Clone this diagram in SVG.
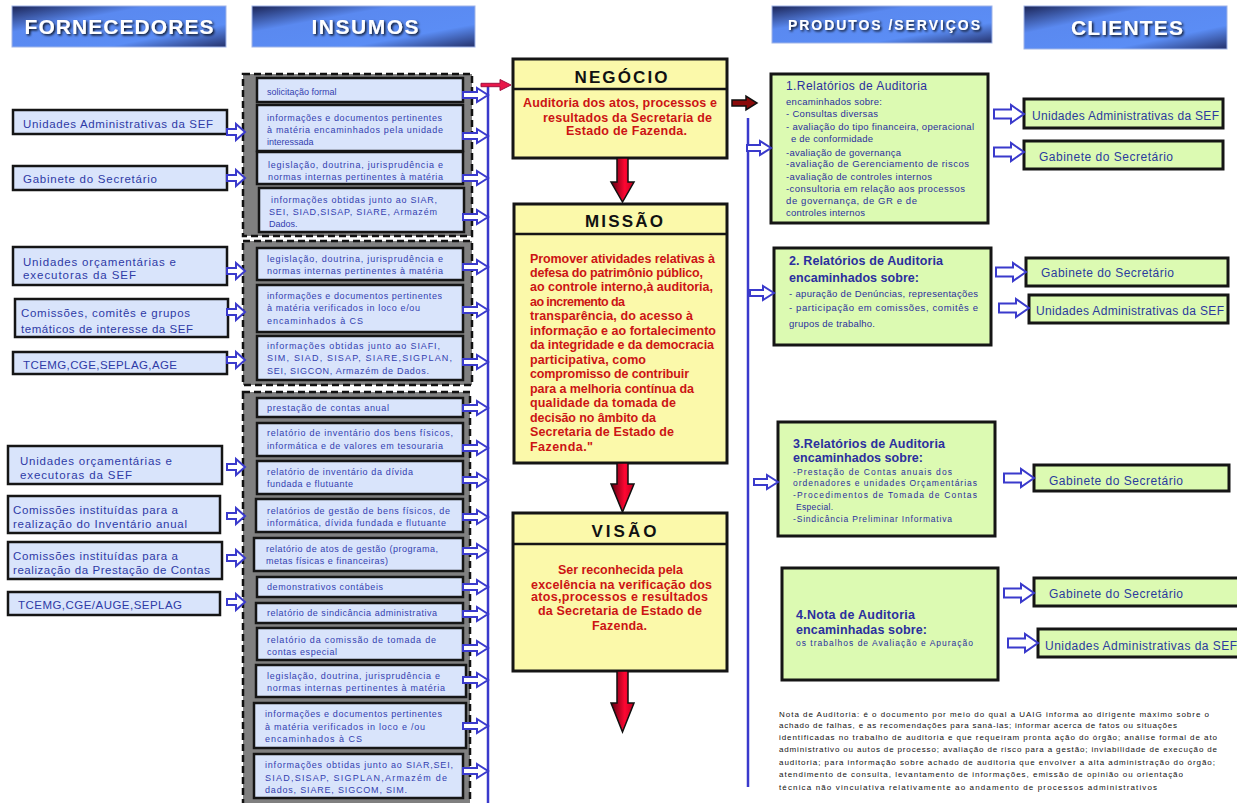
<svg xmlns="http://www.w3.org/2000/svg" width="1237" height="803" viewBox="0 0 1237 803">
<style>
text{font-family:"Liberation Sans",Arial,sans-serif}
.hd{fill:url(#hg);stroke:#9fb4e8;stroke-width:1}
.ht{fill:#fff;font-weight:bold;filter:url(#sh)}
.sb{fill:#d9e4fb;stroke:#151515;stroke-width:2.5}
.st{font-size:11.5px;fill:#2e3aa6}
.grp{fill:#808080;stroke:#111;stroke-width:2.5;stroke-dasharray:7 4}
.ib{fill:#d9e4fb;stroke:#151515;stroke-width:2.5}
.it{font-size:9px;fill:#3340b0}
.cb{fill:#fbf9aa;stroke:#151515;stroke-width:3}
.ch{font-size:17px;font-weight:900;fill:#111}
.ct{font-size:12.5px;font-weight:bold;fill:#cc1414}
.pb{fill:#dcfab2;stroke:#151515;stroke-width:3}
.pt{fill:#2b2f9e}
.ptl{font-size:12px}
.pbd{font-size:12.5px;font-weight:bold}
.ps{font-size:9.5px}
.pss{font-size:8.5px}
.clt{font-size:12px;fill:#2b3a9e}
.nt{font-size:8px;fill:#111}
.ha{fill:#fff;stroke:#3a3acc;stroke-width:2}
.bl{stroke:#3a3acc;stroke-width:2.5;fill:none}
.ra{fill:url(#rg);stroke:#111;stroke-width:1.5}
</style>
<defs>
<linearGradient id="hg" x1="0" y1="0" x2="1" y2="1">
<stop offset="0" stop-color="#1b2456"/>
<stop offset="0.32" stop-color="#5a89f0"/>
<stop offset="0.72" stop-color="#5b8df5"/>
<stop offset="1" stop-color="#25326c"/>
</linearGradient>
<linearGradient id="rg" x1="0" y1="0" x2="1" y2="0">
<stop offset="0" stop-color="#5a0010"/>
<stop offset="0.6" stop-color="#ff0632"/>
<stop offset="1" stop-color="#c00020"/>
</linearGradient>
<filter id="sh" x="-10%" y="-30%" width="120%" height="160%">
<feDropShadow dx="1.5" dy="1.5" stdDeviation="0.8" flood-color="#000" flood-opacity="0.85"/>
</filter>
<path id="aS" class="ha" d="M-18,-3 L-9,-3 L-9,-8 L0,0 L-9,8 L-9,3 L-18,3 Z"/>
<path id="aI" class="ha" d="M-25,-3 L-11,-3 L-11,-7 L0,0 L-11,7 L-11,3 L-25,3 Z"/>
<path id="aP" class="ha" d="M-24,-3 L-11,-3 L-11,-7 L0,0 L-11,7 L-11,3 L-24,3 Z"/>
<path id="aC" class="ha" d="M-30,-4.5 L-13,-4.5 L-13,-9 L0,0 L-13,9 L-13,4.5 L-30,4.5 Z"/>
</defs>

<g id="headers">
<g id="h-fornecedores"><rect class="hd" x="12" y="6" width="214" height="41"/><text class="ht" x="119" y="34" font-size="21" text-anchor="middle" textLength="189" lengthAdjust="spacing">FORNECEDORES</text></g>
<g id="h-insumos"><rect class="hd" x="252" y="6" width="223" height="41"/><text class="ht" x="365" y="34" font-size="21" text-anchor="middle" textLength="107" lengthAdjust="spacing">INSUMOS</text></g>
<g id="h-produtos"><rect class="hd" x="772" y="6" width="220" height="37"/><text class="ht" x="884" y="30" font-size="14" text-anchor="middle" textLength="192" lengthAdjust="spacing">PRODUTOS /SERVIÇOS</text></g>
<g id="h-clientes"><rect class="hd" x="1024" y="6" width="203" height="43"/><text class="ht" x="1127" y="35" font-size="21" text-anchor="middle" textLength="112" lengthAdjust="spacing">CLIENTES</text></g>
</g>

<g id="fornecedores">
<g id="s1"><rect class="sb" x="13" y="110" width="214" height="24"/><text class="st" x="23" y="128" textLength="190" lengthAdjust="spacing">Unidades Administrativas da SEF</text></g>
<g id="s2"><rect class="sb" x="13" y="166" width="214" height="24"/><text class="st" x="23" y="183" textLength="134" lengthAdjust="spacing">Gabinete do Secretário</text></g>
<g id="s3"><rect class="sb" x="13" y="247" width="214" height="38"/><text class="st" x="23" y="266" textLength="153" lengthAdjust="spacing">Unidades orçamentárias e</text><text class="st" x="23" y="279" textLength="113" lengthAdjust="spacing">executoras da SEF</text></g>
<g id="s4"><rect class="sb" x="15" y="299" width="213" height="38"/><text class="st" x="21" y="317" textLength="169" lengthAdjust="spacing">Comissões, comitês e grupos</text><text class="st" x="21" y="333" textLength="172" lengthAdjust="spacing">temáticos de interesse da SEF</text></g>
<g id="s5"><rect class="sb" x="13" y="352" width="214" height="22"/><text class="st" x="23" y="369" textLength="154" lengthAdjust="spacing">TCEMG,CGE,SEPLAG,AGE</text></g>
<g id="s6"><rect class="sb" x="8" y="446" width="214" height="38"/><text class="st" x="20" y="465" textLength="152" lengthAdjust="spacing">Unidades orçamentárias e</text><text class="st" x="20" y="479" textLength="112" lengthAdjust="spacing">executoras da SEF</text></g>
<g id="s7"><rect class="sb" x="8" y="496" width="212" height="37"/><text class="st" x="13" y="514" textLength="165" lengthAdjust="spacing">Comissões instituídas para a</text><text class="st" x="13" y="528" textLength="174" lengthAdjust="spacing">realização do Inventário anual</text></g>
<g id="s8"><rect class="sb" x="8" y="542" width="214" height="37"/><text class="st" x="13" y="560" textLength="165" lengthAdjust="spacing">Comissões instituídas para a</text><text class="st" x="13" y="574" textLength="197" lengthAdjust="spacing">realização da Prestação de Contas</text></g>
<g id="s9"><rect class="sb" x="8" y="592" width="212" height="23"/><text class="st" x="18" y="609" textLength="164" lengthAdjust="spacing">TCEMG,CGE/AUGE,SEPLAG</text></g>
</g>

<g id="insumos">
<rect id="g1" class="grp" x="243" y="74" width="229" height="162"/>
<rect id="g2" class="grp" x="243" y="241" width="229" height="144"/>
<rect id="g3" class="grp" x="243" y="392" width="227" height="420"/>
<g id="i1"><rect class="ib" x="257" y="78" width="206" height="24"/><text class="it" x="267" y="95">solicitação formal</text></g>
<g id="i2"><rect class="ib" x="257" y="105" width="206" height="46"/><text class="it" x="267" y="121" textLength="175" lengthAdjust="spacing">informações e documentos pertinentes</text><text class="it" x="267" y="133" textLength="176" lengthAdjust="spacing">à matéria encaminhados pela unidade</text><text class="it" x="267" y="145">interessada</text></g>
<g id="i3"><rect class="ib" x="257" y="152" width="206" height="32"/><text class="it" x="268" y="168" textLength="175" lengthAdjust="spacing">legislação, doutrina, jurisprudência e</text><text class="it" x="268" y="180" textLength="175" lengthAdjust="spacing">normas internas pertinentes à matéria</text></g>
<g id="i4"><rect class="ib" x="259" y="188" width="205" height="44"/><text class="it" x="271" y="203" textLength="166" lengthAdjust="spacing">informações obtidas junto ao SIAR,</text><text class="it" x="269" y="215" textLength="168" lengthAdjust="spacing">SEI, SIAD,SISAP, SIARE, Armazém</text><text class="it" x="269" y="227">Dados.</text></g>
<g id="i5"><rect class="ib" x="257" y="248" width="206" height="32"/><text class="it" x="267" y="262" textLength="176" lengthAdjust="spacing">legislação, doutrina, jurisprudência e</text><text class="it" x="267" y="274" textLength="176" lengthAdjust="spacing">normas internas pertinentes à matéria</text></g>
<g id="i6"><rect class="ib" x="257" y="285" width="206" height="47"/><text class="it" x="267" y="299" textLength="175" lengthAdjust="spacing">informações e documentos pertinentes</text><text class="it" x="267" y="311" textLength="153" lengthAdjust="spacing">à matéria verificados in loco e/ou</text><text class="it" x="267" y="324" textLength="96" lengthAdjust="spacing">encaminhados à CS</text></g>
<g id="i7"><rect class="ib" x="257" y="336" width="206" height="44"/><text class="it" x="267" y="349" textLength="173" lengthAdjust="spacing">informações obtidas junto ao SIAFI,</text><text class="it" x="267" y="361" textLength="185" lengthAdjust="spacing">SIM, SIAD, SISAP, SIARE,SIGPLAN,</text><text class="it" x="267" y="374" textLength="162" lengthAdjust="spacing">SEI, SIGCON, Armazém de Dados.</text></g>
<g id="i8"><rect class="ib" x="257" y="398" width="206" height="19"/><text class="it" x="267" y="411" textLength="122" lengthAdjust="spacing">prestação de contas anual</text></g>
<g id="i9"><rect class="ib" x="257" y="423" width="206" height="33"/><text class="it" x="267" y="436" textLength="186" lengthAdjust="spacing">relatório de inventário dos bens físicos,</text><text class="it" x="267" y="449" textLength="176" lengthAdjust="spacing">informática e de valores em tesouraria</text></g>
<g id="i10"><rect class="ib" x="257" y="461" width="206" height="33"/><text class="it" x="267" y="475" textLength="146" lengthAdjust="spacing">relatório de inventário da dívida</text><text class="it" x="267" y="487" textLength="86" lengthAdjust="spacing">fundada e flutuante</text></g>
<g id="i11"><rect class="ib" x="256" y="499" width="207" height="33"/><text class="it" x="267" y="514" textLength="183" lengthAdjust="spacing">relatórios de gestão de bens físicos, de</text><text class="it" x="267" y="526" textLength="179" lengthAdjust="spacing">informática, dívida fundada e flutuante</text></g>
<g id="i12"><rect class="ib" x="254" y="538" width="209" height="33"/><text class="it" x="266" y="552" textLength="172" lengthAdjust="spacing">relatório de atos de gestão (programa,</text><text class="it" x="266" y="564" textLength="122" lengthAdjust="spacing">metas físicas e financeiras)</text></g>
<g id="i13"><rect class="ib" x="257" y="577" width="206" height="20"/><text class="it" x="267" y="590" textLength="116" lengthAdjust="spacing">demonstrativos contábeis</text></g>
<g id="i14"><rect class="ib" x="256" y="603" width="207" height="20"/><text class="it" x="267" y="616" textLength="170" lengthAdjust="spacing">relatório de sindicância administrativa</text></g>
<g id="i15"><rect class="ib" x="257" y="628" width="206" height="32"/><text class="it" x="267" y="643" textLength="169" lengthAdjust="spacing">relatório da comissão de tomada de</text><text class="it" x="267" y="655" textLength="70" lengthAdjust="spacing">contas especial</text></g>
<g id="i16"><rect class="ib" x="256" y="665" width="210" height="32"/><text class="it" x="267" y="679" textLength="173" lengthAdjust="spacing">legislação, doutrina, jurisprudência e</text><text class="it" x="267" y="691" textLength="178" lengthAdjust="spacing">normas internas pertinentes à matéria</text></g>
<g id="i17"><rect class="ib" x="254" y="703" width="212" height="45"/><text class="it" x="265" y="717" textLength="177" lengthAdjust="spacing">informações e documentos pertinentes</text><text class="it" x="265" y="730" textLength="160" lengthAdjust="spacing">à matéria verificados in loco e /ou</text><text class="it" x="265" y="742" textLength="97" lengthAdjust="spacing">encaminhados à CS</text></g>
<g id="i18"><rect class="ib" x="254" y="754" width="209" height="44"/><text class="it" x="265" y="768" textLength="188" lengthAdjust="spacing">informações obtidas junto ao SIAR,SEI,</text><text class="it" x="265" y="781" textLength="182" lengthAdjust="spacing">SIAD,SISAP, SIGPLAN,Armazém de</text><text class="it" x="265" y="793" textLength="142" lengthAdjust="spacing">dados, SIARE, SIGCOM, SIM.</text></g>
</g>

<g id="centro">
<g id="negocio"><rect class="cb" x="513" y="59" width="214" height="99"/><line x1="513" y1="89" x2="727" y2="89" stroke="#151515" stroke-width="2.5"/><text class="ch" x="621" y="83" text-anchor="middle" textLength="93" lengthAdjust="spacing">NEGÓCIO</text>
<text class="ct" x="523" y="107" textLength="194" lengthAdjust="spacing">Auditoria dos atos, processos e</text>
<text class="ct" x="543" y="122" textLength="169" lengthAdjust="spacing">resultados da Secretaria de</text>
<text class="ct" x="566" y="135" textLength="121" lengthAdjust="spacing">Estado de Fazenda.</text></g>
<g id="missao"><rect class="cb" x="514" y="204" width="213" height="259"/><line x1="514" y1="234" x2="727" y2="234" stroke="#151515" stroke-width="2.5"/><text class="ch" x="624" y="227" text-anchor="middle" textLength="78" lengthAdjust="spacing">MISSÃO</text>
<text class="ct" x="530" y="262.5" textLength="185" lengthAdjust="spacing">Promover atividades relativas à</text>
<text class="ct" x="530" y="277" textLength="173" lengthAdjust="spacing">defesa do patrimônio público,</text>
<text class="ct" x="530" y="291.4" textLength="183" lengthAdjust="spacing">ao controle interno,à auditoria,</text>
<text class="ct" x="530" y="305.9" textLength="95" lengthAdjust="spacing">ao incremento da</text>
<text class="ct" x="530" y="320.3" textLength="163" lengthAdjust="spacing">transparência, do acesso à</text>
<text class="ct" x="530" y="334.8" textLength="186" lengthAdjust="spacing">informação e ao fortalecimento</text>
<text class="ct" x="530" y="349.3" textLength="184" lengthAdjust="spacing">da integridade e da democracia</text>
<text class="ct" x="530" y="363.7" textLength="116" lengthAdjust="spacing">participativa, como</text>
<text class="ct" x="530" y="378.2" textLength="159" lengthAdjust="spacing">compromisso de contribuir</text>
<text class="ct" x="530" y="392.6" textLength="164" lengthAdjust="spacing">para a melhoria contínua da</text>
<text class="ct" x="530" y="407.1" textLength="146" lengthAdjust="spacing">qualidade da tomada de</text>
<text class="ct" x="530" y="421.6" textLength="126" lengthAdjust="spacing">decisão no âmbito da</text>
<text class="ct" x="530" y="436" textLength="144" lengthAdjust="spacing">Secretaria de Estado de</text>
<text class="ct" x="530" y="450.5" textLength="63" lengthAdjust="spacing">Fazenda."</text></g>
<g id="visao"><rect class="cb" x="513" y="513" width="214" height="158"/><line x1="513" y1="544" x2="727" y2="544" stroke="#151515" stroke-width="2.5"/><text class="ch" x="624" y="537" text-anchor="middle" textLength="65" lengthAdjust="spacing">VISÃO</text>
<text class="ct" x="558" y="573.5" textLength="125" lengthAdjust="spacing">Ser reconhecida pela</text>
<text class="ct" x="531" y="588.5" textLength="181" lengthAdjust="spacing">excelência na verificação dos</text>
<text class="ct" x="531" y="600.5" textLength="177" lengthAdjust="spacing">atos,processos e resultados</text>
<text class="ct" x="538" y="614.5" textLength="164" lengthAdjust="spacing">da Secretaria de Estado de</text>
<text class="ct" x="592" y="629.5" textLength="55" lengthAdjust="spacing">Fazenda.</text></g>
</g>

<g id="produtos">
<g id="p1"><rect class="pb" x="771" y="74" width="217" height="149"/>
<text class="pt ptl" x="786" y="90" textLength="141" lengthAdjust="spacing">1.Relatórios de Auditoria</text>
<text class="pt ps" x="786" y="104.5" textLength="96" lengthAdjust="spacing">encaminhados sobre:</text>
<text class="pt ps" x="786" y="116.5" textLength="92" lengthAdjust="spacing">- Consultas diversas</text>
<text class="pt ps" x="786" y="129.5" textLength="188" lengthAdjust="spacing">- avaliação do tipo financeira, operacional</text>
<text class="pt ps" x="791" y="141.5" textLength="82" lengthAdjust="spacing">e de conformidade</text>
<text class="pt ps" x="786" y="155.5" textLength="115" lengthAdjust="spacing">-avaliação de governança</text>
<text class="pt ps" x="786" y="166.5" textLength="183" lengthAdjust="spacing">-avaliação de Gerenciamento de riscos</text>
<text class="pt ps" x="786" y="179.5" textLength="146" lengthAdjust="spacing">-avaliação de controles internos</text>
<text class="pt ps" x="786" y="191.5" textLength="179" lengthAdjust="spacing">-consultoria em relação aos processos</text>
<text class="pt ps" x="786" y="203.5" textLength="131" lengthAdjust="spacing">de governança, de GR e de</text>
<text class="pt ps" x="786" y="215.5" textLength="79" lengthAdjust="spacing">controles internos</text></g>
<g id="p2"><rect class="pb" x="774" y="248" width="217" height="97"/>
<text class="pt pbd" x="789" y="264.5" textLength="154" lengthAdjust="spacing">2. Relatórios de Auditoria</text>
<text class="pt pbd" x="789" y="281.5" textLength="130" lengthAdjust="spacing">encaminhados sobre:</text>
<text class="pt ps" x="789" y="296.5" textLength="189" lengthAdjust="spacing">- apuração de Denúncias, representações</text>
<text class="pt ps" x="789" y="310.5" textLength="189" lengthAdjust="spacing">- participação em comissões, comitês e</text>
<text class="pt ps" x="789" y="326.5" textLength="86" lengthAdjust="spacing">grupos de trabalho.</text></g>
<g id="p3"><rect class="pb" x="778" y="422" width="217" height="114"/>
<text class="pt pbd" x="793" y="447.5" textLength="152" lengthAdjust="spacing">3.Relatórios de Auditoria</text>
<text class="pt pbd" x="793" y="461.5" textLength="130" lengthAdjust="spacing">encaminhados sobre:</text>
<text class="pt pss" x="793" y="475" textLength="159" lengthAdjust="spacing">-Prestação de Contas anuais dos</text>
<text class="pt pss" x="793" y="486" textLength="184" lengthAdjust="spacing">ordenadores e unidades Orçamentárias</text>
<text class="pt pss" x="793" y="498" textLength="184" lengthAdjust="spacing">-Procedimentos de Tomada de Contas</text>
<text class="pt pss" x="796" y="510" textLength="37" lengthAdjust="spacing">Especial.</text>
<text class="pt pss" x="793" y="522" textLength="159" lengthAdjust="spacing">-Sindicância Preliminar Informativa</text></g>
<g id="p4"><rect class="pb" x="782" y="568" width="216" height="112"/>
<text class="pt pbd" x="796" y="618.5" textLength="119" lengthAdjust="spacing">4.Nota de Auditoria</text>
<text class="pt pbd" x="796" y="633.5" textLength="131" lengthAdjust="spacing">encaminhadas sobre:</text>
<text class="pt pss" x="796" y="645.5" textLength="177" lengthAdjust="spacing">os trabalhos de Avaliação e Apuração</text></g>
</g>

<g id="clientes">
<g id="c1"><rect class="pb" x="1024" y="99" width="199" height="29"/><text class="clt" x="1032" y="120" textLength="187" lengthAdjust="spacing">Unidades Administrativas da SEF</text></g>
<g id="c2"><rect class="pb" x="1024" y="141" width="199" height="28"/><text class="clt" x="1039" y="161" textLength="134" lengthAdjust="spacing">Gabinete do Secretário</text></g>
<g id="c3"><rect class="pb" x="1026" y="258" width="202" height="28"/><text class="clt" x="1041" y="277" textLength="133" lengthAdjust="spacing">Gabinete do Secretário</text></g>
<g id="c4"><rect class="pb" x="1029" y="295" width="199" height="28"/><text class="clt" x="1036" y="315" textLength="188" lengthAdjust="spacing">Unidades Administrativas da SEF</text></g>
<g id="c5"><rect class="pb" x="1034" y="465" width="195" height="26"/><text class="clt" x="1049" y="485" textLength="134" lengthAdjust="spacing">Gabinete do Secretário</text></g>
<g id="c6"><rect class="pb" x="1034" y="578" width="215" height="28"/><text class="clt" x="1049" y="598" textLength="134" lengthAdjust="spacing">Gabinete do Secretário</text></g>
<g id="c7"><rect class="pb" x="1038" y="629" width="215" height="28"/><text class="clt" x="1045" y="650" textLength="192" lengthAdjust="spacing">Unidades Administrativas da SEF</text></g>
</g>

<g id="nota">
<text class="nt" x="779" y="717" textLength="430" lengthAdjust="spacing">Nota de Auditoria: é o documento por meio do qual a UAIG informa ao dirigente máximo sobre o</text>
<text class="nt" x="779" y="728" textLength="398" lengthAdjust="spacing">achado de falhas, e as recomendações para saná-las; informar acerca de fatos ou situações</text>
<text class="nt" x="779" y="740" textLength="438" lengthAdjust="spacing">identificadas no trabalho de auditoria e que requeiram pronta ação do órgão; análise formal de ato</text>
<text class="nt" x="779" y="752" textLength="438" lengthAdjust="spacing">administrativo ou autos de processo; avaliação de risco para a gestão; inviabilidade de execução de</text>
<text class="nt" x="779" y="765" textLength="436" lengthAdjust="spacing">auditoria; para informação sobre achado de auditoria que envolver a alta administração do órgão;</text>
<text class="nt" x="779" y="777" textLength="404" lengthAdjust="spacing">atendimento de consulta, levantamento de informações, emissão de opinião ou orientação</text>
<text class="nt" x="779" y="790" textLength="378" lengthAdjust="spacing">técnica não vinculativa relativamente ao andamento de processos administrativos</text>
</g>

<g id="connectors">
<line class="bl" x1="488" y1="86" x2="488" y2="803"/>
<line class="bl" x1="748" y1="118" x2="748" y2="787"/>
<path d="M481,83.3 L500,83.3 L500,79.5 L511,85 L500,90.5 L500,86.7 L481,86.7 Z" fill="#e8174a" stroke="#a01040" stroke-width="1"/>
<path d="M732,100 L746,100 L746,96 L757,103 L746,110 L746,106 L732,106 Z" fill="#8a0a0a" stroke="#111" stroke-width="1.5"/>
<path class="ra" d="M617,158 L628,158 L628,182 L634,182 L622.5,202 L611,182 L617,182 Z"/>
<path class="ra" d="M617,463 L628,463 L628,484 L634,484 L622.5,512 L611,484 L617,484 Z"/>
<path class="ra" d="M617,671 L628,671 L628,703 L634,703 L622.5,732 L611,703 L617,703 Z"/>
<use href="#aS" x="245" y="132"/>
<use href="#aS" x="245" y="178"/>
<use href="#aS" x="245" y="271"/>
<use href="#aS" x="245" y="312"/>
<use href="#aS" x="245" y="360"/>
<use href="#aS" x="245" y="467"/>
<use href="#aS" x="245" y="516"/>
<use href="#aS" x="245" y="558"/>
<use href="#aS" x="245" y="602"/>
<use href="#aI" x="488" y="95"/>
<use href="#aI" x="488" y="136"/>
<use href="#aI" x="488" y="178"/>
<use href="#aI" x="488" y="217"/>
<use href="#aI" x="488" y="267"/>
<use href="#aI" x="488" y="310"/>
<use href="#aI" x="488" y="362"/>
<use href="#aI" x="488" y="408"/>
<use href="#aI" x="488" y="448"/>
<use href="#aI" x="488" y="480"/>
<use href="#aI" x="488" y="517"/>
<use href="#aI" x="488" y="551"/>
<use href="#aI" x="488" y="587"/>
<use href="#aI" x="488" y="614"/>
<use href="#aI" x="488" y="648"/>
<use href="#aI" x="488" y="680"/>
<use href="#aI" x="488" y="726"/>
<use href="#aI" x="488" y="771"/>
<use href="#aP" x="771" y="148"/>
<use href="#aP" x="774" y="293"/>
<use href="#aP" x="778" y="482"/>
<use href="#aC" x="1024" y="114"/>
<use href="#aC" x="1024" y="152"/>
<use href="#aC" x="1026" y="272"/>
<use href="#aC" x="1029" y="308"/>
<use href="#aC" x="1034" y="478"/>
<use href="#aC" x="1034" y="593"/>
<use href="#aC" x="1038" y="643"/>
</g>
</svg>
